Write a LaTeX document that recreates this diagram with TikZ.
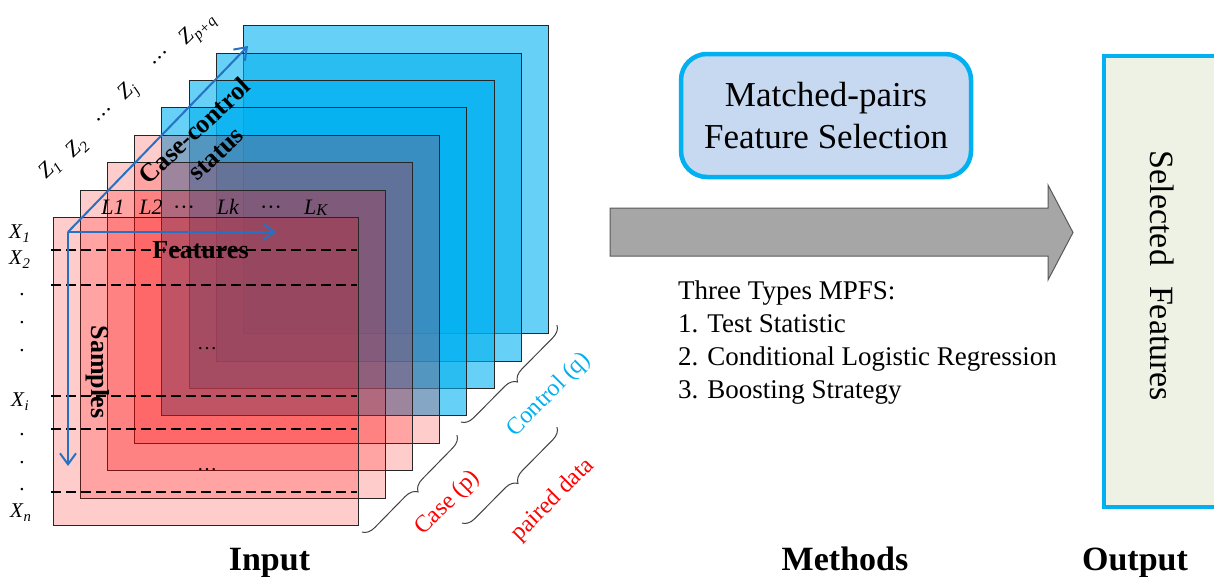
\documentclass[tikz,border=0pt]{standalone}
\usepackage{fontspec}
\setmainfont{Liberation Serif}
\usepackage{graphicx}
\usetikzlibrary{arrows.meta,decorations.pathreplacing}
\definecolor{cblue}{RGB}{0,176,240}
\definecolor{cred}{RGB}{255,0,0}
\definecolor{axblue}{RGB}{37,113,196}
\definecolor{mfill}{RGB}{198,217,241}
\definecolor{ofill}{RGB}{238,242,228}
\definecolor{agray}{RGB}{166,166,166}
\newcommand\sbs[2]{\textit{#1}\raisebox{-0.22em}{\scalebox{0.7}{\textit{#2}}}}
\newcommand\fs[1]{\fontsize{#1}{#1}\selectfont}
\begin{document}
\begin{tikzpicture}[x=1pt,y=-1pt,
  layerbox/.style={draw=black!85, line width=0.9pt, minimum width=305pt, minimum height=308pt, anchor=north west, inner sep=0pt},
  redlayer/.style={layerbox, fill=cred, fill opacity=0.2},
  bluelayer/.style={layerbox, fill=cblue, fill opacity=0.6},
  axisarrow/.style={draw=axblue, line width=2pt, -{Straight Barb[length=11pt,width=16pt]}},
  rowdash/.style={black, line width=1.2pt, dash pattern=on 10pt off 5pt},
  lab/.style={inner sep=0pt, font=\fs{21}},
  zlab/.style={inner sep=0pt, font=\fs{22}, rotate=44},
  llab/.style={inner sep=0pt, font=\fs{22}, anchor=base},
  dotlab/.style={inner sep=0pt, font=\fs{21}, anchor=base},
  boldlab/.style={inner sep=0pt, font=\fs{26}\bfseries},
  cbrace/.style={decorate, decoration={brace, mirror, amplitude=12pt}, draw=black!75, line width=1pt},
  bracelab/.style={inner sep=0pt, font=\fs{24}, rotate=45},
  title/.style={inner sep=0pt, font=\fs{34}\bfseries, anchor=base},
  listline/.style={inner sep=0pt, font=\fs{27}, anchor=base west}
]
\useasboundingbox (0,0) rectangle (1214,576);

% layers, back to front
\foreach \i in {7,6,...,0}{
  \pgfmathsetmacro\lx{53+27.1*\i}
  \pgfmathsetmacro\ly{217-27.4*\i}
  \ifnum\i>3
    \node[bluelayer] (S\i) at (\lx,\ly) {};
  \else
    \node[redlayer] (S\i) at (\lx,\ly) {};
  \fi
}

% dashed sample rows
\foreach \yy in {250,285,396,429,492}{
  \draw[rowdash] (51,\yy) -- (357,\yy);
}

% row labels
\node[lab, anchor=base west] (x1) at (9,238) {\sbs{X}{1}};
\node[lab, anchor=base west] (x2) at (9,264) {\sbs{X}{2}};
\node[lab, anchor=base west] (xi) at (11,406) {\sbs{X}{i}};
\node[lab, anchor=base west] (xn) at (10,517) {\sbs{X}{n}};
\foreach \yy [count=\k] in {293,321,349,433,461,488}{
  \node[dotlab] (rd\k) at (22,\yy+2) {.};
}

% column labels
\node[llab] (l1) at (113,214) {\textit{L1}};
\node[llab] (l2) at (151,214) {\textit{L2}};
\node[llab] (ld1) at (184,214) {···};
\node[llab] (lk) at (228,214) {\textit{Lk}};
\node[llab] (ld2) at (271,214) {···};
\node[llab] (lK) at (316,214) {\textit{L}\raisebox{-0.05em}{\scalebox{0.75}{\textit{K}}}};

% Z labels
\node[zlab] (z1) at (50,169) {\sbs{Z}{1}};
\node[zlab] (z2) at (77,148) {\sbs{Z}{2}};
\node[zlab] (zd1) at (106,117) {···};
\node[zlab] (zj) at (129,92) {\sbs{Z}{j}};
\node[zlab] (zd2) at (162,60) {···};
\node[zlab] (zpq) at (198,30) {\sbs{Z}{p+q}};

% inner ellipses
\node[dotlab, font=\fs{20}] (e1) at (207,349) {\dots};
\node[dotlab, font=\fs{20}] (e2) at (207,470) {\dots};

% axes
\coordinate (O) at (68,232);
\coordinate (fx) at (276,232);
\coordinate (sy) at (68,466);
\coordinate (cz) at (248,46);
\draw[axisarrow] (O) -- (fx);
\draw[axisarrow] (O) -- (sy);
\draw[axisarrow] (O) -- (cz);

\node[boldlab, anchor=base] (feat) at (200.5,258) {Features};
\node[boldlab, rotate=-90] (samp) at (98,372) {Samples};
\node[boldlab, rotate=43, align=center, font=\fontsize{26}{31}\selectfont\bfseries] (ccs) at (205,142) {Case-control\\status};

% braces
\coordinate (b1a) at (362,532); \coordinate (b1b) at (457,435);
\coordinate (b2a) at (461,422); \coordinate (b2b) at (557,325);
\coordinate (b3a) at (462,523); \coordinate (b3b) at (557,427);
\draw[cbrace] (b1a) -- (b1b);
\draw[cbrace] (b2a) -- (b2b);
\draw[cbrace] (b3a) -- (b3b);
\node[bracelab, text=cred] (case) at (448,503) {Case (p)};
\node[bracelab, text=cblue] (ctrl) at (549,395) {Control (q)};
\node[bracelab, text=cred] (pair) at (553,500) {paired data};

% big gray arrow
\draw[fill=agray, draw=black!65, line width=1pt]
  (610,208) -- (1048,208) -- (1048,185) -- (1073,232.5) -- (1048,280) -- (1048,256) -- (610,256) -- cycle;

% methods box
\node[draw=cblue, line width=4.5pt, fill=mfill, rounded corners=26pt,
      minimum width=290pt, minimum height=123pt, align=center,
      font=\fontsize{35}{42}\selectfont] (mpfs) at (826,115.5) {Matched-pairs\\Feature Selection};

\node[listline] (t0) at (678,299) {Three Types MPFS:};
\node[listline] (t1) at (678,332) {1. Test Statistic};
\node[listline] (t2) at (678,365) {2. Conditional Logistic Regression};
\node[listline] (t3) at (678,398) {3. Boosting Strategy};

% output box
\node[draw=cblue, line width=4pt, fill=ofill, anchor=north west,
      minimum width=140pt, minimum height=451pt, inner sep=0pt] (out) at (1102,54) {};
\node[inner sep=0pt, rotate=-90, font=\fs{34}] (sel) at (1162,276) {Selected\hspace{20pt}Features};

% titles
\node[title] (tin) at (269.5,570) {Input};
\node[title] (tme) at (845,570) {Methods};
\node[title] (tout) at (1135,570) {Output};
\end{tikzpicture}
\end{document}
